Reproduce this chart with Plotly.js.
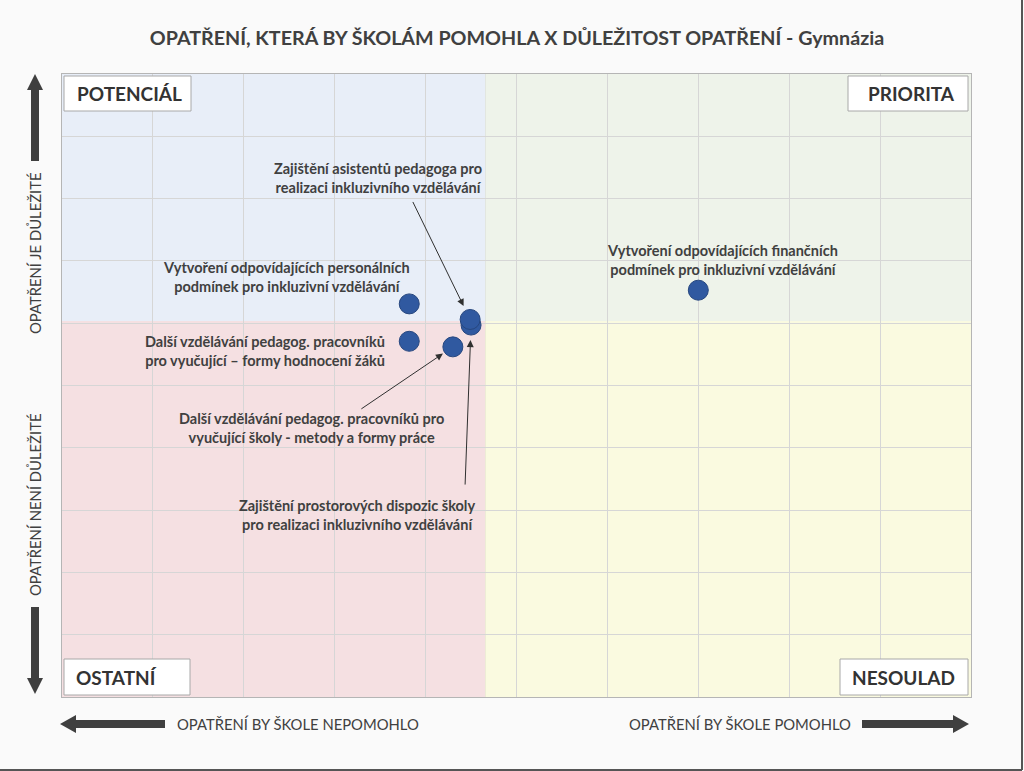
<!DOCTYPE html>
<html><head><meta charset="utf-8">
<script src="https://cdn.plot.ly/plotly-3.0.1.min.js"></script>
<style>html,body{margin:0;padding:0;background:#fafafa;} #chart{width:1024px;height:771px;}</style>
</head><body><div id="chart"></div>
<script>
// ---- data ----
const measures = [
  "Vytvoření odpovídajících finančních<br>podmínek pro inkluzivní vzdělávání",
  "Vytvoření odpovídajících personálních<br>podmínek pro inkluzivní vzdělávání",
  "Zajištění prostorových dispozic školy<br>pro realizaci inkluzivního vzdělávání",
  "Zajištění asistentů pedagoga pro<br>realizaci inkluzivního vzdělávání",
  "Další vzdělávání pedagog. pracovníků<br>pro vyučující – formy hodnocení žáků",
  "Další vzdělávání pedagog. pracovníků pro<br>vyučující školy - metody a formy práce"
];
const helped     = [7.00, 3.82, 4.50, 4.49, 3.82, 4.30];
const importance = [6.53, 6.31, 5.97, 6.06, 5.71, 5.62];
const quadrantNames = ["POTENCIÁL", "PRIORITA", "OSTATNÍ", "NESOULAD"];
const axisTexts = ["OPATŘENÍ JE DŮLEŽITÉ", "OPATŘENÍ NENÍ DŮLEŽITÉ", "OPATŘENÍ BY ŠKOLE NEPOMOHLO", "OPATŘENÍ BY ŠKOLE POMOHLO"];
const chartTitle = "OPATŘENÍ, KTERÁ BY ŠKOLÁM POMOHLA X DŮLEŽITOST OPATŘENÍ - Gymnázia";

// ---- layout helpers ----
const W = 1024, H = 771, L = 62, R = 53, T = 74, B = 74;
const PW = W - L - R, PH = H - T - B;
const px = x => (x - L) / PW;
const py = y => (H - B - y) / PH;
const mean = a => a.reduce((s, v) => s + v, 0) / a.length;
const xCross = mean(helped), yCross = mean(importance);
const XMIN = 0, XMAX = 10, YMIN = 0, YMAX = 10;
const FONT = 'Lato, "Open Sans", sans-serif';
const TXT = '#404040';

// label placement (pixel offsets from point) & arrows
const labelCfg = [
  {dx: 24,   dy: 30,   align: 'center', xanchor: 'center'},
  {dx: -123, dy: 27,   align: 'center', xanchor: 'center'},
  {dx: -114, dy: -190, align: 'center', xanchor: 'center', arrow: {ax: -6, ay: 161, standoff: 15}},
  {dx: -92,  dy: 141,  align: 'center', xanchor: 'center', arrow: {ax: -58, ay: -119, standoff: 15}},
  {dx: -22,  dy: -10,  align: 'right',  xanchor: 'right'},
  {dx: -141, dy: -81,  align: 'center', xanchor: 'center', arrow: {ax: -93, ay: 63, standoff: 12}}
];

const annotations = [];
measures.forEach((m, i) => {
  const c = labelCfg[i];
  annotations.push({
    x: helped[i], y: importance[i], xref: 'x', yref: 'y', text: m, showarrow: false,
    xshift: c.dx, yshift: c.dy, xanchor: c.xanchor, yanchor: 'middle', align: c.align,
    font: {family: FONT, size: 14.5, color: TXT, weight: 'bold'}
  });
  if (c.arrow) {
    annotations.push({
      x: helped[i], y: importance[i], xref: 'x', yref: 'y', text: '', showarrow: true,
      ax: c.arrow.ax, ay: c.arrow.ay, standoff: c.arrow.standoff,
      arrowhead: 2, arrowsize: 1.4, arrowwidth: 1, arrowcolor: '#303030'
    });
  }
});

// quadrant labels
const qBoxes = [
  {x0: 64, x1: 191, y0: 76, y1: 111, tx: 75, anchor: 'left'},
  {x0: 848, x1: 968, y0: 76, y1: 111, tx: 957, anchor: 'right'},
  {x0: 64, x1: 190, y0: 659, y1: 695, tx: 74, anchor: 'left'},
  {x0: 840, x1: 968, y0: 659, y1: 695, tx: 957, anchor: 'right'}
];
const shapes = [];
// quadrant fills
const qFill = [
  {x0: XMIN, x1: xCross, y0: yCross, y1: YMAX, c: '#e8eef8'},
  {x0: xCross, x1: XMAX, y0: yCross, y1: YMAX, c: '#eef3ea'},
  {x0: XMIN, x1: xCross, y0: YMIN, y1: yCross, c: '#f5e0e2'},
  {x0: xCross, x1: XMAX, y0: YMIN, y1: yCross, c: '#fafae0'}
];
qFill.forEach(q => shapes.push({type: 'rect', xref: 'x', yref: 'y', x0: q.x0, x1: q.x1, y0: q.y0, y1: q.y1,
  fillcolor: q.c, line: {width: 0}, layer: 'below'}));
// cross lines
shapes.push({type: 'line', xref: 'x', yref: 'paper', x0: xCross, x1: xCross, y0: 0, y1: 1, line: {color: '#8f8f8f', width: 2}, layer: 'below'});
shapes.push({type: 'line', xref: 'paper', yref: 'y', x0: 0, x1: 1, y0: yCross, y1: yCross, line: {color: '#8f8f8f', width: 2}, layer: 'below'});

qBoxes.forEach((b, i) => {
  shapes.push({type: 'rect', xref: 'paper', yref: 'paper', x0: px(b.x0), x1: px(b.x1), y0: py(b.y1), y1: py(b.y0),
    fillcolor: '#ffffff', line: {color: '#a8a8a8', width: 1}});
  annotations.push({xref: 'paper', yref: 'paper', x: px(b.tx), y: py((b.y0 + b.y1) / 2), xanchor: b.anchor, yanchor: 'middle',
    text: quadrantNames[i], showarrow: false, font: {family: FONT, size: 19, color: '#333333', weight: 'bold'}});
});

// axis direction texts
const AXF = {family: FONT, size: 14.8, color: TXT};
annotations.push({xref: 'paper', yref: 'paper', x: px(35), y: py(253), text: axisTexts[0], textangle: -90, showarrow: false,
  xanchor: 'center', yanchor: 'middle', font: AXF});
annotations.push({xref: 'paper', yref: 'paper', x: px(35), y: py(505), text: axisTexts[1], textangle: -90, showarrow: false,
  xanchor: 'center', yanchor: 'middle', font: AXF});
annotations.push({xref: 'paper', yref: 'paper', x: px(175), y: py(724), text: axisTexts[2], showarrow: false,
  xanchor: 'left', yanchor: 'middle', font: AXF});
annotations.push({xref: 'paper', yref: 'paper', x: px(853), y: py(724), text: axisTexts[3], showarrow: false,
  xanchor: 'right', yanchor: 'middle', font: AXF});

// thick arrows
function pathOf(pts) { return 'M' + pts.map(p => px(p[0]) + ',' + py(p[1])).join(' L') + ' Z'; }
const AC = '#3f3f3f';
shapes.push({type: 'path', xref: 'paper', yref: 'paper', fillcolor: AC, line: {width: 0},
  path: pathOf([[35, 74], [43, 90], [39, 90], [39, 161], [31, 161], [31, 90], [27, 90]])});
shapes.push({type: 'path', xref: 'paper', yref: 'paper', fillcolor: AC, line: {width: 0},
  path: pathOf([[35, 694], [43, 678], [39, 678], [39, 607], [31, 607], [31, 678], [27, 678]])});
shapes.push({type: 'path', xref: 'paper', yref: 'paper', fillcolor: AC, line: {width: 0},
  path: pathOf([[60, 724], [76, 715], [76, 720], [165, 720], [165, 728], [76, 728], [76, 733]])});
shapes.push({type: 'path', xref: 'paper', yref: 'paper', fillcolor: AC, line: {width: 0},
  path: pathOf([[969, 724], [953, 715], [953, 720], [862, 720], [862, 728], [953, 728], [953, 733]])});
// outer frame lines (right & bottom)
shapes.push({type: 'line', xref: 'paper', yref: 'paper', x0: px(1022), x1: px(1022), y0: py(0), y1: py(770), line: {color: '#555555', width: 2}});
shapes.push({type: 'line', xref: 'paper', yref: 'paper', x0: px(0), x1: px(1022), y0: py(770), y1: py(770), line: {color: '#555555', width: 2}});

const trace = {
  type: 'scatter', mode: 'markers', x: helped, y: importance, text: measures, hoverinfo: 'text',
  marker: {size: 20, color: '#3059a0', line: {color: '#27477f', width: 1}}
};

const axisBase = {showticklabels: false, ticks: '', zeroline: false, showgrid: true, gridcolor: '#d6d6d6', gridwidth: 1,
  showline: true, mirror: true, linecolor: '#b5b5b5', linewidth: 1, dtick: 1, fixedrange: true};

const layout = {
  width: W, height: H, margin: {l: L, r: R, t: T, b: B},
  paper_bgcolor: '#fafafa', plot_bgcolor: '#ffffff', showlegend: false,
  title: {text: chartTitle, x: 517 / W, xanchor: 'center', y: 1 - 38 / H, yanchor: 'middle',
    font: {family: FONT, size: 19.7, color: TXT, weight: 'bold'}},
  xaxis: Object.assign({}, axisBase, {range: [XMIN, XMAX], title: {text: ''}}),
  yaxis: Object.assign({}, axisBase, {range: [YMIN, YMAX], title: {text: ''}}),
  shapes: shapes, annotations: annotations
};

Plotly.newPlot('chart', [trace], layout, {displayModeBar: false, staticPlot: true});
</script></body></html>
